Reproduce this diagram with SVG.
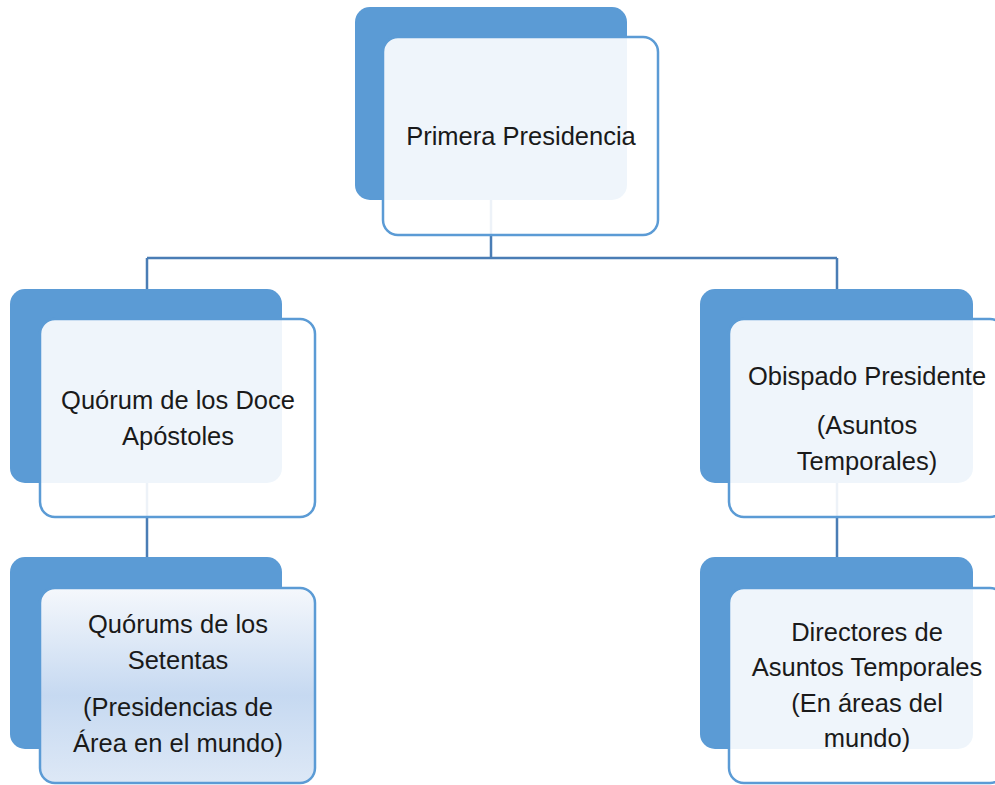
<svg xmlns="http://www.w3.org/2000/svg" width="995" height="785" viewBox="0 0 995 785">
<style>
.back{fill:#5B9BD5;}
.front{fill:#FFFFFF;fill-opacity:0.9;stroke:#5B9BD5;stroke-width:2.5;}
.grad{fill:url(#g1);stroke:#5B9BD5;stroke-width:2.5;}
.conn{fill:none;stroke:#4A7DB5;stroke-width:2.5;}
text{font-family:"Liberation Sans",Arial,sans-serif;font-size:25.5px;fill:#1A1A1A;text-anchor:middle;}
</style>
<defs>
<linearGradient id="g1" x1="0" y1="0" x2="0" y2="1">
<stop offset="0" stop-color="#F5F8FC"/>
<stop offset="0.55" stop-color="#C6D9F1"/>
<stop offset="1" stop-color="#DDE8F6"/>
</linearGradient>
</defs>
<g id="connectors">
<path class="conn" d="M491,200 V258 M147,258 H837 M147,258 V290 M837,258 V290 M147,483 V557 M837,483 V557"/>
</g>
<g id="n1">
<rect class="back" x="355" y="7" width="272" height="193" rx="15"/>
<rect class="front" x="383" y="37" width="275" height="198" rx="15"/>
<text x="521" y="145">Primera Presidencia</text>
</g>
<g id="n2">
<rect class="back" x="10" y="289" width="272" height="194" rx="15"/>
<rect class="front" x="40" y="319" width="275" height="198" rx="15"/>
<text x="178" y="409">Quórum de los Doce</text>
<text x="178" y="445">Apóstoles</text>
</g>
<g id="n3">
<rect class="back" x="700" y="289" width="273" height="194" rx="15"/>
<rect class="front" x="729" y="319" width="276" height="198" rx="15"/>
<text x="867" y="385">Obispado Presidente</text>
<text x="867" y="434">(Asuntos</text>
<text x="867" y="470">Temporales)</text>
</g>
<g id="n4">
<rect class="back" x="10" y="557" width="272" height="192" rx="15"/>
<rect class="grad" x="40" y="588" width="275" height="195" rx="15"/>
<text x="178" y="633">Quórums de los</text>
<text x="178" y="669">Setentas</text>
<text x="178" y="716">(Presidencias de</text>
<text x="178" y="752">Área en el mundo)</text>
</g>
<g id="n5">
<rect class="back" x="700" y="557" width="273" height="192" rx="15"/>
<rect class="front" x="729" y="588" width="276" height="195" rx="15"/>
<text x="867" y="641">Directores de</text>
<text x="867" y="676">Asuntos Temporales</text>
<text x="867" y="712">(En áreas del</text>
<text x="867" y="747">mundo)</text>
</g>
</svg>
